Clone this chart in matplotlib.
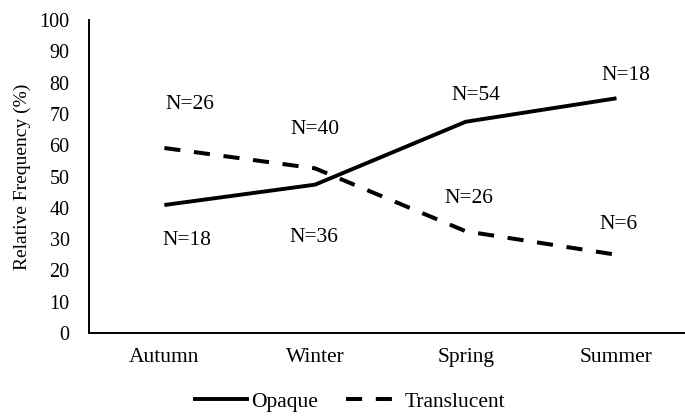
import numpy as np
import matplotlib
matplotlib.use("Agg")
import matplotlib.pyplot as plt

# season categories and relative frequencies (%)
seasons = ["Autumn", "Winter", "Spring", "Summer"]
opaque = [40.9, 47.4, 67.5, 75.0]
translucent = [59.1, 52.6, 32.5, 25.0]

# sample size labels: (text, x in category units, y in %)
n_labels = ["N=26", "N=18", "N=40", "N=36", "N=54", "N=26", "N=18", "N=6"]
n_x = [0.17, 0.15, 1.0, 0.99, 2.07, 2.02, 3.06, 3.01]
n_y = [73.0, 29.4, 64.9, 30.6, 76.0, 43.0, 82.4, 34.7]

plt.rcParams['font.family'] = ['Liberation Serif', 'DejaVu Serif']

fig = plt.figure(figsize=(6.85, 4.17), dpi=100)
ax = fig.add_axes([0.130, 0.2014, 0.870 + 0.01, 0.7506])

x = np.arange(len(seasons))
ax.plot(x, opaque, color='black', lw=2.8, solid_capstyle='butt', label='Opaque')
ax.plot(x, translucent, color='black', lw=2.9, dashes=(4.0, 3.4),
        dash_capstyle='butt', label='Translucent')

for t, xx, yy in zip(n_labels, n_x, n_y):
    ax.text(xx, yy, t, ha='center', va='center', fontsize=15.5)

ax.set_xlim(-0.5, 3.5)
ax.set_ylim(0, 100)
ax.set_yticks(range(0, 101, 10))
ax.set_xticks(x)
ax.set_xticklabels(seasons, fontsize=15.5)
ax.tick_params(axis='y', length=0, pad=14, labelsize=14.5)
ax.tick_params(axis='x', length=0, pad=11)
ax.set_ylabel("Relative Frequency (%)", fontsize=14, labelpad=6)

for s in ['top', 'right']:
    ax.spines[s].set_visible(False)
for s in ['left', 'bottom']:
    ax.spines[s].set_linewidth(1.4)

fig.legend(loc='center', bbox_to_anchor=(0.51, 0.036), ncol=2, frameon=False,
           fontsize=15.5, handlelength=2.6, handletextpad=0.1, columnspacing=1.3)

fig.savefig("out.png", dpi=100)
